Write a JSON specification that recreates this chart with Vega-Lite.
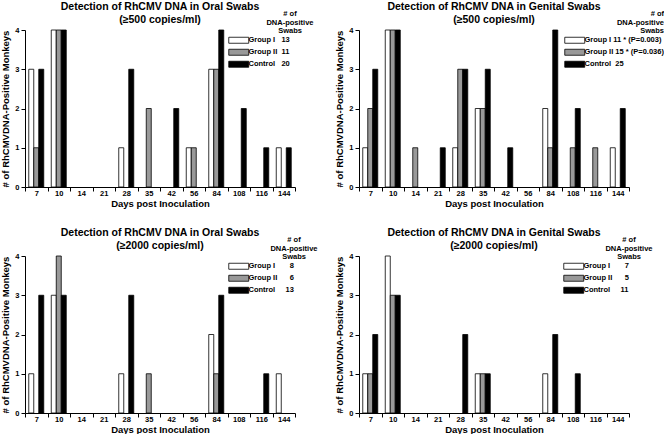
{
  "$schema": "https://vega.github.io/schema/vega-lite/v6.json",
  "padding": {"left": 0, "top": 2, "right": 0, "bottom": 0},
  "background": "white",
  "datasets": {
    "swabs": [
      {"p": "oral500", "d": 7, "g": "Group I", "n": 3},
      {"p": "oral500", "d": 7, "g": "Group II", "n": 1},
      {"p": "oral500", "d": 7, "g": "Control", "n": 3},
      {"p": "oral500", "d": 10, "g": "Group I", "n": 4},
      {"p": "oral500", "d": 10, "g": "Group II", "n": 4},
      {"p": "oral500", "d": 10, "g": "Control", "n": 4},
      {"p": "oral500", "d": 28, "g": "Group I", "n": 1},
      {"p": "oral500", "d": 28, "g": "Control", "n": 3},
      {"p": "oral500", "d": 35, "g": "Group II", "n": 2},
      {"p": "oral500", "d": 42, "g": "Control", "n": 2},
      {"p": "oral500", "d": 56, "g": "Group I", "n": 1},
      {"p": "oral500", "d": 56, "g": "Group II", "n": 1},
      {"p": "oral500", "d": 84, "g": "Group I", "n": 3},
      {"p": "oral500", "d": 84, "g": "Group II", "n": 3},
      {"p": "oral500", "d": 84, "g": "Control", "n": 4},
      {"p": "oral500", "d": 108, "g": "Control", "n": 2},
      {"p": "oral500", "d": 116, "g": "Control", "n": 1},
      {"p": "oral500", "d": 144, "g": "Group I", "n": 1},
      {"p": "oral500", "d": 144, "g": "Control", "n": 1},

      {"p": "gen500", "d": 7, "g": "Group I", "n": 1},
      {"p": "gen500", "d": 7, "g": "Group II", "n": 2},
      {"p": "gen500", "d": 7, "g": "Control", "n": 3},
      {"p": "gen500", "d": 10, "g": "Group I", "n": 4},
      {"p": "gen500", "d": 10, "g": "Group II", "n": 4},
      {"p": "gen500", "d": 10, "g": "Control", "n": 4},
      {"p": "gen500", "d": 14, "g": "Group II", "n": 1},
      {"p": "gen500", "d": 21, "g": "Control", "n": 1},
      {"p": "gen500", "d": 28, "g": "Group I", "n": 1},
      {"p": "gen500", "d": 28, "g": "Group II", "n": 3},
      {"p": "gen500", "d": 28, "g": "Control", "n": 3},
      {"p": "gen500", "d": 35, "g": "Group I", "n": 2},
      {"p": "gen500", "d": 35, "g": "Group II", "n": 2},
      {"p": "gen500", "d": 35, "g": "Control", "n": 3},
      {"p": "gen500", "d": 42, "g": "Control", "n": 1},
      {"p": "gen500", "d": 84, "g": "Group I", "n": 2},
      {"p": "gen500", "d": 84, "g": "Group II", "n": 1},
      {"p": "gen500", "d": 84, "g": "Control", "n": 4},
      {"p": "gen500", "d": 108, "g": "Group II", "n": 1},
      {"p": "gen500", "d": 108, "g": "Control", "n": 2},
      {"p": "gen500", "d": 116, "g": "Group II", "n": 1},
      {"p": "gen500", "d": 144, "g": "Group I", "n": 1},
      {"p": "gen500", "d": 144, "g": "Control", "n": 2},

      {"p": "oral2000", "d": 7, "g": "Group I", "n": 1},
      {"p": "oral2000", "d": 7, "g": "Control", "n": 3},
      {"p": "oral2000", "d": 10, "g": "Group I", "n": 3},
      {"p": "oral2000", "d": 10, "g": "Group II", "n": 4},
      {"p": "oral2000", "d": 10, "g": "Control", "n": 3},
      {"p": "oral2000", "d": 28, "g": "Group I", "n": 1},
      {"p": "oral2000", "d": 28, "g": "Control", "n": 3},
      {"p": "oral2000", "d": 35, "g": "Group II", "n": 1},
      {"p": "oral2000", "d": 84, "g": "Group I", "n": 2},
      {"p": "oral2000", "d": 84, "g": "Group II", "n": 1},
      {"p": "oral2000", "d": 84, "g": "Control", "n": 3},
      {"p": "oral2000", "d": 116, "g": "Control", "n": 1},
      {"p": "oral2000", "d": 144, "g": "Group I", "n": 1},

      {"p": "gen2000", "d": 7, "g": "Group I", "n": 1},
      {"p": "gen2000", "d": 7, "g": "Group II", "n": 1},
      {"p": "gen2000", "d": 7, "g": "Control", "n": 2},
      {"p": "gen2000", "d": 10, "g": "Group I", "n": 4},
      {"p": "gen2000", "d": 10, "g": "Group II", "n": 3},
      {"p": "gen2000", "d": 10, "g": "Control", "n": 3},
      {"p": "gen2000", "d": 28, "g": "Control", "n": 2},
      {"p": "gen2000", "d": 35, "g": "Group I", "n": 1},
      {"p": "gen2000", "d": 35, "g": "Group II", "n": 1},
      {"p": "gen2000", "d": 35, "g": "Control", "n": 1},
      {"p": "gen2000", "d": 84, "g": "Group I", "n": 1},
      {"p": "gen2000", "d": 84, "g": "Control", "n": 2},
      {"p": "gen2000", "d": 108, "g": "Control", "n": 1}
    ]
  },
  "data": {"name": "swabs"},
  "columns": 2,
  "spacing": {"column": 16, "row": 20},
  "resolve": {"scale": {"fill": "independent"}, "legend": {"fill": "independent"}},
  "concat": [
    {
      "width": 270, "height": 157,
      "title": {"text": ["Detection of RhCMV DNA in Oral Swabs", "(≥500 copies/ml)"]},
      "transform": [{"filter": "datum.p === 'oral500'"}],
      "mark": {"type": "bar", "stroke": "black", "strokeWidth": 0.8},
      "encoding": {
        "x": {"field": "d", "type": "ordinal", "scale": {"domain": [7,10,14,21,28,35,42,56,84,108,116,144], "paddingInner": 0, "paddingOuter": 0}, "axis": {"title": "Days post Inoculation", "labelAngle": 0, "tickBand": "extent"}},
        "xOffset": {"field": "g", "type": "nominal", "scale": {"domain": ["Group I", "Group II", "Control"], "paddingInner": 0, "paddingOuter": 0.75}},
        "y": {"field": "n", "type": "quantitative", "scale": {"domain": [0, 4], "nice": false}, "axis": {"title": "# of RhCMVDNA-Positive Monkeys", "values": [0,1,2,3,4]}},
        "fill": {"field": "g", "type": "nominal", "scale": {"domain": ["Group I", "Group II", "Control"], "range": ["#ffffff", "#999999", "#000000"]},
          "legend": {"orient": "none", "legendX": 210, "legendY": -20, "title": ["# of", "DNA-positive", "Swabs"],
            "labelExpr": "datum.label === 'Group I' ? 'Group I\u00a0\u00a0\u00a013' : datum.label === 'Group II' ? 'Group II\u00a0\u00a011' : 'Control\u00a0\u00a0\u00a020'"}}
      }
    },
    {
      "width": 270, "height": 157,
      "title": {"text": ["Detection of RhCMV DNA in Genital Swabs", "(≥500 copies/ml)"]},
      "transform": [{"filter": "datum.p === 'gen500'"}],
      "mark": {"type": "bar", "stroke": "black", "strokeWidth": 0.8},
      "encoding": {
        "x": {"field": "d", "type": "ordinal", "scale": {"domain": [7,10,14,21,28,35,42,56,84,108,116,144], "paddingInner": 0, "paddingOuter": 0}, "axis": {"title": "Days post Inoculation", "labelAngle": 0, "tickBand": "extent"}},
        "xOffset": {"field": "g", "type": "nominal", "scale": {"domain": ["Group I", "Group II", "Control"], "paddingInner": 0, "paddingOuter": 0.75}},
        "y": {"field": "n", "type": "quantitative", "scale": {"domain": [0, 4], "nice": false}, "axis": {"title": "# of RhCMVDNA-Positive Monkeys", "values": [0,1,2,3,4]}},
        "fill": {"field": "g", "type": "nominal", "scale": {"domain": ["Group I", "Group II", "Control"], "range": ["#ffffff", "#999999", "#000000"]},
          "legend": {"orient": "none", "legendX": 212, "legendY": -20, "title": ["# of", "DNA-positive", "Swabs"], "titleAnchor": "end", "titleAlign": "right",
            "labelExpr": "datum.label === 'Group I' ? 'Group I\u00a011 * (P=0.003)' : datum.label === 'Group II' ? 'Group II\u00a015 * (P=0.036)' : 'Control\u00a0\u00a025'"}}
      }
    },
    {
      "width": 270, "height": 157,
      "title": {"text": ["Detection of RhCMV DNA in Oral Swabs", "(≥2000 copies/ml)"]},
      "transform": [{"filter": "datum.p === 'oral2000'"}],
      "mark": {"type": "bar", "stroke": "black", "strokeWidth": 0.8},
      "encoding": {
        "x": {"field": "d", "type": "ordinal", "scale": {"domain": [7,10,14,21,28,35,42,56,84,108,116,144], "paddingInner": 0, "paddingOuter": 0}, "axis": {"title": "Days post Inoculation", "labelAngle": 0, "tickBand": "extent"}},
        "xOffset": {"field": "g", "type": "nominal", "scale": {"domain": ["Group I", "Group II", "Control"], "paddingInner": 0, "paddingOuter": 0.75}},
        "y": {"field": "n", "type": "quantitative", "scale": {"domain": [0, 4], "nice": false}, "axis": {"title": "# of RhCMVDNA-Positive Monkeys", "values": [0,1,2,3,4]}},
        "fill": {"field": "g", "type": "nominal", "scale": {"domain": ["Group I", "Group II", "Control"], "range": ["#ffffff", "#999999", "#000000"]},
          "legend": {"orient": "none", "legendX": 210, "legendY": -20, "title": ["# of", "DNA-positive", "Swabs"],
            "labelExpr": "datum.label === 'Group I' ? 'Group I\u00a0\u00a0\u00a0\u00a0\u00a0\u00a0\u00a08' : datum.label === 'Group II' ? 'Group II\u00a0\u00a0\u00a0\u00a0\u00a0\u00a06' : 'Control\u00a0\u00a0\u00a0\u00a0\u00a013'"}}
      }
    },
    {
      "width": 270, "height": 157,
      "title": {"text": ["Detection of RhCMV DNA in Genital Swabs", "(≥2000 copies/ml)"]},
      "transform": [{"filter": "datum.p === 'gen2000'"}],
      "mark": {"type": "bar", "stroke": "black", "strokeWidth": 0.8},
      "encoding": {
        "x": {"field": "d", "type": "ordinal", "scale": {"domain": [7,10,14,21,28,35,42,56,84,108,116,144], "paddingInner": 0, "paddingOuter": 0}, "axis": {"title": "Days post Inoculation", "labelAngle": 0, "tickBand": "extent"}},
        "xOffset": {"field": "g", "type": "nominal", "scale": {"domain": ["Group I", "Group II", "Control"], "paddingInner": 0, "paddingOuter": 0.75}},
        "y": {"field": "n", "type": "quantitative", "scale": {"domain": [0, 4], "nice": false}, "axis": {"title": "# of RhCMVDNA-Positive Monkeys", "values": [0,1,2,3,4]}},
        "fill": {"field": "g", "type": "nominal", "scale": {"domain": ["Group I", "Group II", "Control"], "range": ["#ffffff", "#999999", "#000000"]},
          "legend": {"orient": "none", "legendX": 211, "legendY": -20, "title": ["# of", "DNA-positive", "Swabs"],
            "labelExpr": "datum.label === 'Group I' ? 'Group I\u00a0\u00a0\u00a0\u00a0\u00a0\u00a0\u00a07' : datum.label === 'Group II' ? 'Group II\u00a0\u00a0\u00a0\u00a0\u00a0\u00a05' : 'Control\u00a0\u00a0\u00a0\u00a0\u00a011'"}}
      }
    }
  ],
  "config": {
    "font": "Liberation Sans",
    "view": {"stroke": null},
    "title": {"font": "Liberation Sans", "fontSize": 10.5, "fontWeight": "bold", "color": "black", "lineHeight": 12.5, "offset": -15, "anchor": "middle"},
    "axis": {"labelFont": "Liberation Sans", "titleFont": "Liberation Sans", "labelFontSize": 7.5, "labelFontWeight": "bold", "labelColor": "black", "titleFontSize": 9.5, "titleFontWeight": "bold", "titleColor": "black", "domainColor": "black", "tickColor": "black", "tickSize": 4, "grid": false},
    "axisX": {"labelPadding": -2, "titlePadding": 2},
    "axisY": {"labelPadding": 2, "titlePadding": 4},
    "legend": {"symbolType": "M-3.33,-1H3.33V1H-3.33Z", "symbolSize": 36, "symbolStrokeColor": "black", "symbolStrokeWidth": 0.8, "labelFont": "Liberation Sans", "labelFontSize": 7.5, "labelFontWeight": "bold", "labelColor": "black", "titleFont": "Liberation Sans", "titleFontSize": 7.5, "titleFontWeight": "bold", "titleColor": "black", "titleLineHeight": 8.5, "titleAlign": "center", "titleAnchor": "end", "titlePadding": 2, "rowPadding": 2, "labelOffset": 6, "padding": 0, "titleLimit": 0}
  }
}
